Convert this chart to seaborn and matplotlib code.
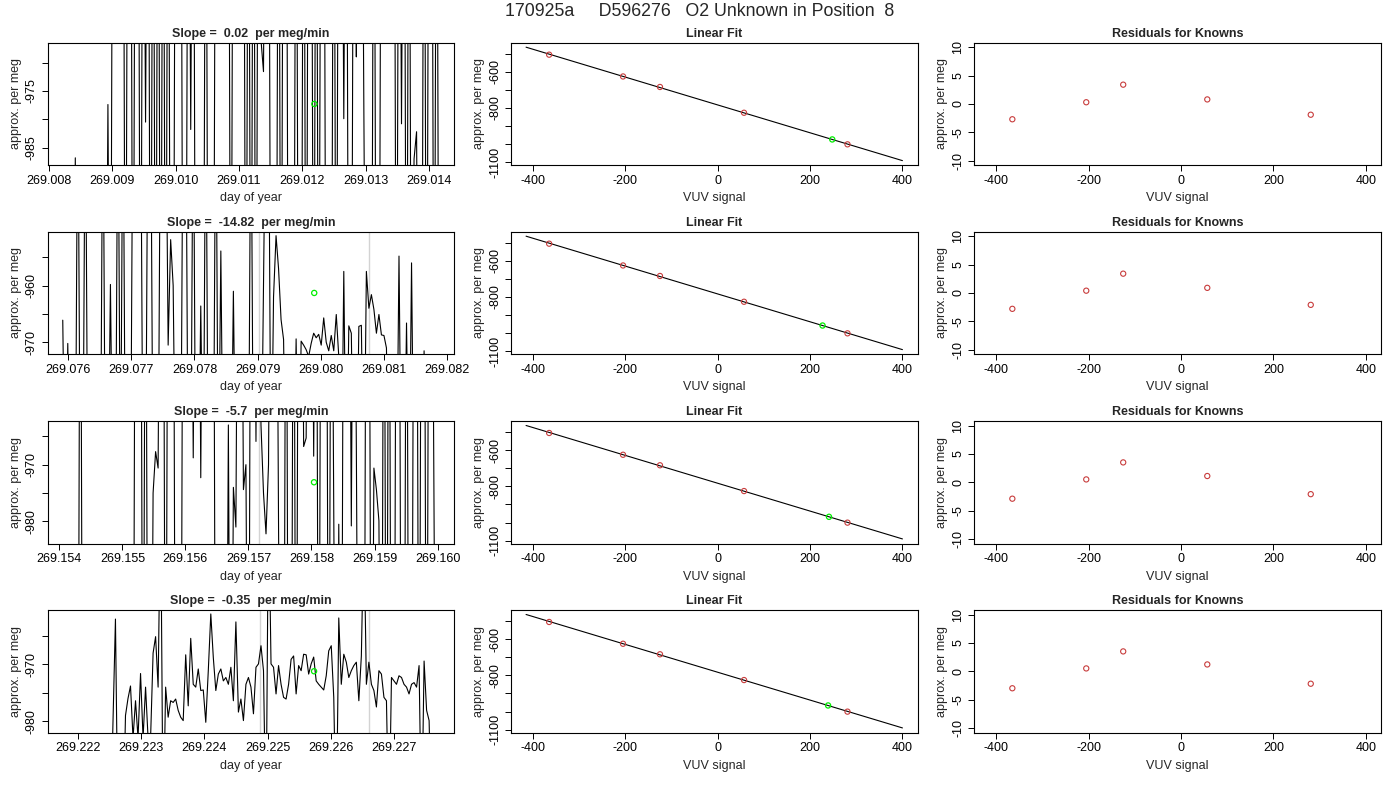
import numpy as np
import matplotlib
matplotlib.use('Agg')
import matplotlib.pyplot as plt
import seaborn as sns

sns.set_style('ticks')
plt.rcParams['font.family'] = ['Liberation Sans', 'DejaVu Sans']

main_title = '170925a     D596276   O2 Unknown in Position  8'

slope_titles = ['Slope =  0.02  per meg/min', 'Slope =  -14.82  per meg/min',
                'Slope =  -5.7  per meg/min', 'Slope =  -0.35  per meg/min']

# first / last sample time (day of year) of each run
run_start = [269.008217, 269.075910, 269.154054, 269.221762]
run_end = [269.014160, 269.081882, 269.160025, 269.227705]

# approx. per meg values of each run (evenly spaced samples)
run1 = [-1050, -1050, -1050, -1050, -1050, -986.8, -1050, -1050, -1050, -1050,
        -1050, -1050, -1050, -1050, -1050, -1050, -1050, -1050, -977.4, -1050,
        -900, -900, -900, -900, -900, -1050, -900, -900, -1050, -900,
        -900, -1050, -900, -980.5, -900, -1050, -900, -1050, -900, -1050,
        -900, -1050, -900, -1050, -1050, -900, -900, -900, -1050, -1050,
        -900, -981.8, -900, -1050, -1050, -1050, -1050, -900, -1050, -1050,
        -1050, -900, -900, -900, -900, -900, -900, -1050, -900, -900,
        -900, -900, -900, -1050, -900, -1050, -900, -1050, -900, -966.0,
        -971.6, -900, -900, -1050, -1050, -1050, -900, -1050, -900, -900,
        -1050, -1050, -1050, -900, -1050, -1050, -900, -1050, -900, -900,
        -1050, -900, -1050, -900, -900, -1050, -1050, -1050, -900, -1050,
        -900, -900, -979.9, -900, -1050, -1050, -900, -969.0, -900, -900,
        -978.7, -1050, -1050, -1050, -900, -1050, -1050, -900, -900, -900,
        -900, -900, -900, -1050, -900, -980.8, -900, -1050, -900, -1050,
        -987.0, -982.2, -1050, -1050, -900, -1050, -900, -900, -1050, -900, -1050]

run2 = [-966.1, -1000, -970.2, -1000, -1000, -1000, -920, -1000, -1000, -920,
        -1000, -1000, -1000, -1000, -1000, -1000, -920, -1000, -1000, -959.8,
        -1000, -1000, -920, -1000, -920, -1000, -1000, -1000, -920, -920,
        -920, -920, -1000, -1000, -920, -920, -1000, -1000, -1000, -920,
        -920, -920, -970.5, -951.9, -960.0, -1000, -1000, -1000, -920, -920,
        -1000, -1000, -920, -1000, -1000, -963.6, -1000, -920, -1000, -1000,
        -1000, -920, -1000, -953.9, -1000, -1000, -1000, -1000, -961.0, -1000,
        -1000, -1000, -1000, -1000, -1000, -920, -1000, -1000, -1000, -1000,
        -960.2, -920, -920, -1000, -962.0, -951.2, -957.0, -966.0, -969.5, -1000,
        -1000, -1000, -1000, -969.4, -1000, -969.8, -970.5, -971.3, -972.5, -970.2,
        -968.4, -969.2, -968.6, -970.5, -965.7, -970.0, -971.5, -968.8, -971.5, -965.1,
        -972.5, -1000, -957.5, -1000, -967.1, -968.4, -1000, -1000, -967.2, -967.0,
        -1000, -957.5, -964.0, -961.6, -964.2, -968.4, -965.1, -968.7, -968.8, -971.0,
        -1000, -1000, -1000, -1000, -954.8, -1000, -1000, -966.6, -1000, -956.0,
        -1000, -1000, -1000, -1000, -971.5, -1000, -1000, -1000, -1000, -1000, -1000]

run3 = [-1050, -1050, -1050, -1050, -1050, -1050, -1050, -900, -1050, -1050,
        -1050, -1050, -1050, -1050, -1050, -1050, -1050, -1050, -1050, -1050,
        -1050, -1050, -1050, -1050, -1050, -1050, -1050, -1050, -1050, -900,
        -900, -900, -1050, -900, -1050, -1050, -975.0, -967.7, -970.6, -900,
        -900, -1050, -900, -900, -900, -1050, -1050, -1050, -900, -900,
        -900, -900, -968.8, -900, -900, -972.3, -900, -900, -900, -900,
        -900, -1050, -1050, -1050, -1050, -1050, -963.0, -1050, -974.0, -981.0,
        -900, -900, -974.4, -970.0, -1050, -900, -900, -965.9, -900, -963.0,
        -975.0, -982.2, -970.0, -900, -900, -900, -981.0, -1050, -1050, -900,
        -1050, -1050, -900, -1050, -900, -900, -966.8, -965.3, -900, -900,
        -968.5, -900, -1050, -900, -900, -900, -1050, -900, -978.4, -1050,
        -980.5, -1050, -900, -900, -900, -980.8, -900, -966.8, -1050, -1050,
        -1050, -900, -900, -1050, -970.6, -974.4, -979.9, -1050, -900, -1050,
        -900, -1050, -1050, -900, -900, -1050, -1050, -900, -1050, -1050,
        -900, -900, -1050, -900, -900, -1050, -900, -900, -981.3, -1050, -1050]

run4 = [-1000, -1000, -1000, -1000, -1000, -1000, -1000, -1000, -1000, -1000,
        -1000, -1000, -1000, -1000, -1000, -1000, -1000, -1000, -1000, -1000,
        -980.5, -962.0, -1000, -1000, -1000, -979.0, -976.0, -973.8, -983.0, -976.4,
        -983.0, -971.6, -983.0, -974.0, -983.0, -983.0, -968.0, -965.1, -974.0, -940,
        -1000, -974.0, -979.3, -976.4, -976.7, -976.1, -978.1, -979.3, -979.9, -968.3,
        -977.3, -965.4, -973.5, -974.0, -970.8, -974.6, -974.5, -980.2, -971.1, -961.1,
        -968.8, -974.6, -971.7, -970.8, -972.9, -972.3, -973.5, -970.5, -976.4, -962.5,
        -978.4, -976.1, -979.9, -973.5, -972.3, -974.0, -978.7, -970.5, -969.9, -966.7,
        -971.1, -1000, -940, -969.9, -970.5, -975.2, -970.2, -973.5, -975.8, -976.1,
        -973.5, -969.1, -968.5, -975.2, -970.2, -971.1, -968.2, -968.3, -971.7, -969.9,
        -968.7, -972.9, -973.5, -974.0, -974.5, -972.0, -967.6, -966.7, -975.8, -1000,
        -961.8, -973.5, -968.2, -969.6, -972.3, -971.1, -970.2, -969.6, -976.4, -968.5,
        -945, -973.5, -969.6, -973.5, -974.6, -977.5, -971.1, -971.7, -975.8, -976.4,
        -1000, -972.3, -972.9, -973.5, -972.0, -972.3, -973.5, -974.0, -975.2, -973.5,
        -973.2, -974.0, -970.2, -1000, -969.4, -978.1, -979.9, -1000, -1000, -1000, -1000]

runs = [run1, run2, run3, run4]

# run mean (green point)
mean_time = [269.01219, 269.07990, 269.15804, 269.22573]
mean_value = [-977.3, -961.3, -973.1, -971.2]

# light grey markers on the time axis
grey_marks = [[], [269.07903, 269.08077], [269.15717], [269.22487, 269.22660]]

left_xticks = [[269.008, 269.009, 269.010, 269.011, 269.012, 269.013, 269.014],
               [269.076, 269.077, 269.078, 269.079, 269.080, 269.081, 269.082],
               [269.154, 269.155, 269.156, 269.157, 269.158, 269.159, 269.160],
               [269.222, 269.223, 269.224, 269.225, 269.226, 269.227]]
left_yticks = [[-970, -975, -980, -985], [-955, -960, -965, -970],
               [-965, -970, -975, -980], [-965, -970, -975, -980]]
left_ylabels = [['', '-975', '', '-985'], ['', '-960', '', '-970'],
                ['', '-970', '', '-980'], ['', '-970', '', '-980']]

# knowns and fit
known_x = [-365, -205, -125, 57, 281]
known_y = [-506, -626, -684, -826, -1000]
fit_x = [-415, 400]
fit_intercept = -783.0
fit_slope = -0.767
unknown_x = [248, 227, 241, 239]
unknown_y = [-973, -957, -968, -966]

residuals = [[-2.7, 0.3, 3.4, 0.8, -1.9],
             [-2.8, 0.4, 3.4, 0.9, -2.1],
             [-2.9, 0.5, 3.5, 1.1, -2.1],
             [-3.0, 0.5, 3.5, 1.2, -2.2]]

vuv_ticks = [-400, -200, 0, 200, 400]
fit_yticks = [-500, -600, -700, -800, -900, -1000, -1100]
fit_ylabels = ['', '-600', '', '-800', '', '', '-1100']
res_yticks = [-10, -5, 0, 5, 10]

# layout in pixels (figure 1400 x 800)
W, H = 1400, 800
col_left = [47.7, 511, 974]
row_top = [42.7, 231.7, 421, 610]
ax_w, ax_h = 406.5, 122.5

fig = plt.figure(figsize=(14, 8), dpi=100)
fig.text(0.5, 1 - 12 / H, main_title, ha='center', va='center', fontsize=12.8)

red = '#c83c3c'
green = '#00ee00'


def style(ax, title, xlabel):
    for s in ax.spines.values():
        s.set_color('black')
        s.set_linewidth(0.8)
    ax.tick_params(direction='out', length=4, width=0.7, colors='black',
                   labelsize=9, pad=3)
    ax.set_title(title, fontsize=9, fontweight='bold', pad=4)
    ax.set_xlabel(xlabel, fontsize=9, labelpad=4)
    ax.set_ylabel('approx. per meg', fontsize=9, labelpad=3)


for r in range(4):
    axes = []
    for c in range(3):
        b = 1 - (row_top[r] + ax_h) / H
        axes.append(fig.add_axes([col_left[c] / W, b, ax_w / W, ax_h / H]))
    a1, a2, a3 = axes

    # time series
    y = np.array(runs[r])
    t = np.linspace(run_start[r], run_end[r], len(y))
    for g in grey_marks[r]:
        a1.axvline(g, color='#d3d3d3', lw=1, zorder=1)
    sns.lineplot(x=t, y=y, ax=a1, color='black', lw=0.8, sort=False,
                 estimator=None, zorder=2)
    sns.scatterplot(x=[mean_time[r]], y=[mean_value[r]], ax=a1, marker='o', s=14,
                    facecolor='none', edgecolor=green, linewidth=0.9, zorder=3)
    pad = 0.04 * (run_end[r] - run_start[r])
    a1.set_xlim(run_start[r] - pad, run_end[r] + pad)
    a1.set_ylim(mean_value[r] - 10.8, mean_value[r] + 10.8)
    a1.set_xticks(left_xticks[r])
    a1.set_xticklabels([f'{v:.3f}' for v in left_xticks[r]])
    a1.set_yticks(left_yticks[r])
    a1.set_yticklabels(left_ylabels[r], rotation=90, va='center')
    style(a1, slope_titles[r], 'day of year')

    # linear fit
    fx = np.array(fit_x)
    sns.lineplot(x=fx, y=fit_intercept + fit_slope * fx, ax=a2, color='black',
                 lw=0.8, zorder=2)
    sns.scatterplot(x=known_x, y=known_y, ax=a2, marker='o', s=14,
                    facecolor='none', edgecolor=red, linewidth=0.8, zorder=3)
    sns.scatterplot(x=[unknown_x[r]], y=[unknown_y[r]], ax=a2, marker='o', s=14,
                    facecolor='none', edgecolor=green, linewidth=0.9, zorder=3)
    a2.set_xlim(-447.6, 432.6)
    a2.set_ylim(-1115, -440)
    a2.set_xticks(vuv_ticks)
    a2.set_xticklabels([str(v) for v in vuv_ticks])
    a2.set_yticks(fit_yticks)
    a2.set_yticklabels(fit_ylabels, rotation=90, va='center')
    style(a2, 'Linear Fit', 'VUV signal')

    # residuals
    sns.scatterplot(x=known_x, y=residuals[r], ax=a3, marker='o', s=14,
                    facecolor='none', edgecolor=red, linewidth=0.8, zorder=3)
    a3.set_xlim(-448, 432)
    a3.set_ylim(-10.8, 10.8)
    a3.set_xticks(vuv_ticks)
    a3.set_xticklabels([str(v) for v in vuv_ticks])
    a3.set_yticks(res_yticks)
    a3.set_yticklabels([str(v) for v in res_yticks], rotation=90, va='center')
    style(a3, 'Residuals for Knowns', 'VUV signal')

fig.savefig('out.png', dpi=100)
